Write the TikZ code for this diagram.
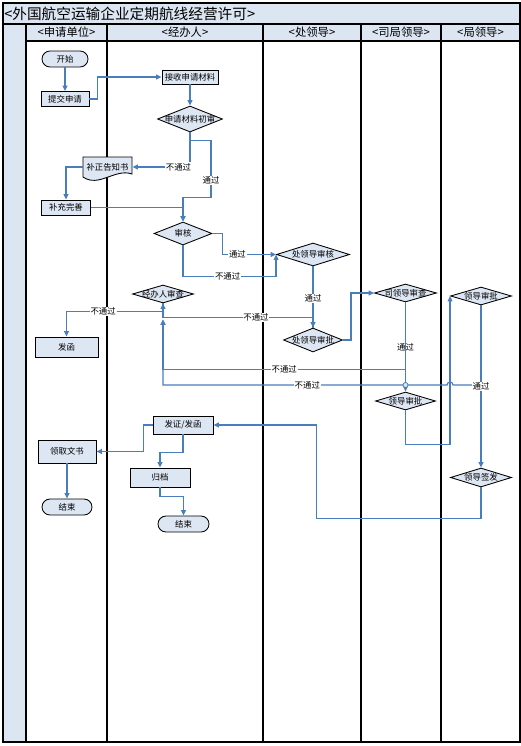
\documentclass[tikz,border=0pt]{standalone}
\usepackage{fontspec}
\setmainfont{Noto Sans CJK SC}
\usepackage{tikz}
\usetikzlibrary{
    shapes.geometric,
    arrows.meta,
    positioning,
    calc
}
\definecolor{lanefill}{RGB}{220, 230, 242}
\definecolor{nodefill}{RGB}{221, 230, 243}
\definecolor{flowblue}{RGB}{74, 126, 187}
\newcommand{\nodefont}{\fontsize{6.3}{7.5}\selectfont}
\newcommand{\dtext}[1]{\makebox[0pt]{#1}}
\tikzstyle{arrow} = [
    -{Triangle[length=4pt,width=3.6pt]},
    draw=flowblue,
    line width=0.9pt
]

\begin{document}
\begin{tikzpicture}[
    x=0.75pt, y=-0.75pt,
    process/.style={rectangle, draw, fill=nodefill, line width=0.65pt, inner sep=1pt, minimum width=36pt, minimum height=11.25pt, font=\nodefont},
    terminal/.style={process, rounded corners=6pt, minimum height=12pt},
    decision/.style={diamond, draw, fill=nodefill, line width=0.65pt, inner sep=0pt, font=\nodefont},
    lbl/.style={fill=white, inner sep=0.6pt, font=\nodefont},
    lane/.style={line width=1.2pt},
    header/.style={font=\fontsize{8.5}{10}\selectfont}
]
    \useasboundingbox (0,0) rectangle (521,746);

    % Frame and lanes
    \fill[lanefill] (3,3) rectangle (520,24);
    \fill[lanefill] (3,24) rectangle (26,742);
    \fill[lanefill] (26,24) rectangle (520,41);
    \draw[lane] (3,24) -- (520,24);
    \draw[lane] (26,41) -- (520,41);
    \draw[lane] (26,24) -- (26,742);
    \draw[lane] (107,24) -- (107,742);
    \draw[lane] (263,24) -- (263,742);
    \draw[lane] (361,24) -- (361,742);
    \draw[lane] (441,24) -- (441,742);
    \draw[line width=1.5pt] (3,3) rectangle (520,742);

    \node[anchor=west, inner sep=0pt, font=\fontsize{11}{13}\selectfont] (title) at (4,13.5) {<外国航空运输企业定期航线经营许可>};
    \node[header] (applicant) at (66.5,32.5) {<申请单位>};
    \node[header] (handler) at (185,32.5) {<经办人>};
    \node[header] (division) at (312,32.5) {<处领导>};
    \node[header] (department) at (401,32.5) {<司局领导>};
    \node[header] (bureau) at (480.5,32.5) {<局领导>};

    % Applicant
    \node[terminal, minimum width=34.5pt] (start) at (65,59) {开始};
    \node[process] (submit) at (65,99) {提交申请};

    % Handler: first check
    \node[process, minimum width=42pt, minimum height=10.5pt] (receive) at (190,77) {接收申请材料};
    \node[decision, minimum width=48.75pt, minimum height=19.5pt] (precheck) at (190,119) {\dtext{申请材料初审}};

    % Correction notice
    \draw[fill=nodefill, line width=0.65pt] (83,157) -- (132,157) -- (132,174) .. controls (115,168) and (99,188) .. (83,177) -- cycle;
    \node[process, draw=none, fill=none, minimum width=36.75pt, minimum height=15pt] (notice) at (107.5,167) {补正告知书};
    \node[process, minimum width=36.75pt] (supply) at (66,207.5) {补充完善};

    % Review
    \node[decision, minimum width=43.5pt, minimum height=17.25pt] (audit) at (183,233.5) {\dtext{审核}};
    \node[decision, minimum width=54.75pt, minimum height=17.25pt] (leadcheck) at (313,254.5) {\dtext{处领导审核}};
    \node[decision, minimum width=45.75pt, minimum height=13.5pt] (handlecheck) at (163,294) {\dtext{经办人审查}};
    \node[decision, minimum width=44.25pt, minimum height=18pt] (leadsign) at (313,340) {\dtext{处领导审批}};
    \node[process, minimum width=47.25pt, minimum height=15pt] (letter) at (66.5,347) {发函};

    % Department and bureau leaders
    \node[decision, minimum width=46.5pt, minimum height=13.5pt] (deptcheck) at (405.5,293) {\dtext{司领导审查}};
    \node[decision, minimum width=45.75pt, minimum height=13.5pt] (bureausign) at (481,296) {\dtext{领导审批}};
    \node[decision, minimum width=45pt, minimum height=13.5pt] (deptsign) at (405.5,401) {\dtext{领导审批}};
    \node[decision, minimum width=45.75pt, minimum height=14.25pt] (bureausend) at (481,477.5) {\dtext{领导签发}};

    % Issue and archive
    \node[process, minimum width=45pt, minimum height=13.5pt] (issue) at (183,425) {发证/发函};
    \node[process, minimum width=43.5pt, minimum height=17.25pt] (fetch) at (67,451.5) {领取文书};
    \node[process, minimum width=45pt, minimum height=14.25pt] (archive) at (160,477.5) {归档};
    \node[terminal, minimum width=37.5pt] (end1) at (67,507) {结束};
    \node[terminal, minimum width=38.25pt] (end2) at (183.5,524) {结束};

    \coordinate (merge) at ($(handlecheck.south)+(0,16)$);
    \coordinate (hop) at (bureausign.west |- 0,385);
    \coordinate (junction) at (deptsign.north |- 0,385);

    % Arrows
    \draw[arrow] (start) -- (submit);
    \draw[arrow] (submit.east) -- ++(8,0) |- (receive.west);
    \draw[arrow] (receive) -- (precheck);
    \draw[arrow] (precheck.south) |- node[lbl, pos=0.6] {不通过} (notice.east);
    \draw[arrow] (precheck.south) -- ++(0,8) -| node[lbl, pos=0.85] {通过} ($(precheck.south)+(21,65)$) -| (audit.north);
    \draw[arrow] (notice.west) -| (supply.north);
    \draw[arrow] (supply.east) -| (audit.north);
    \draw[arrow] (audit.east) -- ++(10,0) |- node[lbl, pos=0.64] {通过} (leadcheck.west);
    \draw[arrow] (audit.south) -- ++(0,31) -| node[lbl, pos=0.24] {不通过} (leadcheck.west);
    \draw[arrow] (leadcheck) -- node[lbl, pos=0.52] {通过} (leadsign);
    \draw[arrow] (leadsign.east) -- ++(8,0) |- (deptcheck.west);
    \draw[arrow] (leadsign.north) -- ++(0,-10) -| node[lbl, pos=0.19] {不通过} (handlecheck.south);
    \draw[arrow] (handlecheck.south) -- ++(0,8) -| node[lbl, pos=0.31] {不通过} (letter.north);
    \draw[arrow] (deptcheck) -- node[lbl, pos=0.5] {通过} (deptsign);
    \draw[arrow] (deptcheck.south) -- ++(0,67) -| node[lbl, pos=0.25] {不通过} (merge);
    \draw[arrow] (deptsign.south) -- ++(0,34) -| (bureausign.west);
    \draw[arrow] (bureausign.south) |- ($(hop)+(3,0)$) arc[start angle=0, end angle=180, radius=2.25pt] -| node[lbl, pos=0.246] {不通过} (merge);
    \draw[arrow] (bureausign) -- node[lbl, pos=0.5] {通过} (bureausend);
    \draw[arrow] (bureausend.south) -- ++(0,31) -| ($(issue.east)+(103,0)$) -- (issue.east);
    \draw[arrow] (issue.west) -- ++(-9,0) |- (fetch.east);
    \draw[arrow] (issue.south) -- ++(0,18) -| (archive.north);
    \draw[arrow] (fetch) -- (end1);
    \draw[arrow] (archive.south) -- ++(0,9) -| (end2.north);
    \draw[draw=flowblue, fill=nodefill, line width=0.6pt] (junction) circle (1.9pt);

\end{tikzpicture}
\end{document}
